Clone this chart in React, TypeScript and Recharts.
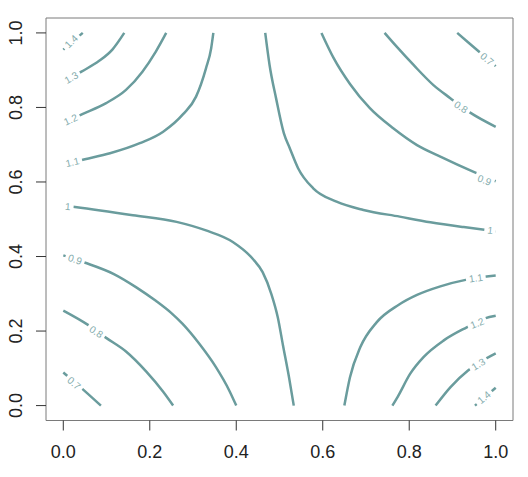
import React from 'react';
import { ComposedChart, Line, XAxis, YAxis, ReferenceArea, ReferenceDot } from 'recharts';

type P = [number, number];

// contour lines, [x, y]
const c07a: P[] = [[0, 0.089], [0.044, 0.045], [0.087, 0]];
const c08a: P[] = [[0, 0.255], [0.058, 0.216], [0.1, 0.181], [0.145, 0.145], [0.192, 0.091], [0.231, 0.037], [0.254, 0]];
const c09a: P[] = [[0, 0.403], [0.049, 0.384], [0.117, 0.353], [0.168, 0.318], [0.214, 0.281], [0.25, 0.248], [0.276, 0.219], [0.315, 0.165], [0.353, 0.103], [0.384, 0.04], [0.4, 0]];
const c10a: P[] = [[0, 0.537], [0.027, 0.533], [0.161, 0.511], [0.262, 0.493], [0.33, 0.47], [0.392, 0.439], [0.438, 0.394], [0.461, 0.358], [0.481, 0.3], [0.496, 0.237], [0.508, 0.162], [0.522, 0.076], [0.533, 0]];
const c10b: P[] = [[0.467, 1.0], [0.477, 0.914], [0.492, 0.825], [0.51, 0.731], [0.524, 0.69], [0.543, 0.637], [0.578, 0.583], [0.632, 0.547], [0.694, 0.525], [0.778, 0.507], [0.849, 0.492], [0.926, 0.479], [1.0, 0.468]];
const c09b: P[] = [[0.597, 1.0], [0.625, 0.933], [0.663, 0.863], [0.709, 0.798], [0.763, 0.744], [0.818, 0.699], [0.872, 0.668], [0.949, 0.627], [1.0, 0.602]];
const c08b: P[] = [[0.743, 1.0], [0.771, 0.963], [0.81, 0.914], [0.856, 0.86], [0.895, 0.825], [0.941, 0.786], [1.0, 0.748]];
const c07b: P[] = [[0.911, 1.0], [0.961, 0.95], [1.0, 0.911]];
const c11a: P[] = [[0, 0.647], [0.05, 0.661], [0.108, 0.677], [0.177, 0.704], [0.231, 0.735], [0.277, 0.782], [0.307, 0.829], [0.33, 0.905], [0.342, 0.959], [0.347, 1.0]];
const c12a: P[] = [[0, 0.758], [0.044, 0.782], [0.098, 0.811], [0.145, 0.847], [0.183, 0.896], [0.214, 0.95], [0.238, 1.0]];
const c13a: P[] = [[0, 0.868], [0.042, 0.896], [0.083, 0.925], [0.114, 0.956], [0.141, 1.0]];
const c14a: P[] = [[0, 0.955], [0.045, 1.0]];
const c11b: P[] = [[0.65, 0], [0.663, 0.076], [0.687, 0.157], [0.725, 0.224], [0.775, 0.27], [0.818, 0.297], [0.872, 0.32], [0.933, 0.338], [1.0, 0.349]];
const c12b: P[] = [[0.761, 0], [0.774, 0.025], [0.802, 0.085], [0.833, 0.13], [0.88, 0.175], [0.933, 0.21], [0.975, 0.234], [1.0, 0.241]];
const c13b: P[] = [[0.861, 0], [0.895, 0.049], [0.936, 0.094], [0.963, 0.116], [1.0, 0.14]];
const c14b: P[] = [[0.952, 0], [1.0, 0.048]];

const contours: { id: string; pts: P[] }[] = [
  { id: 'c07a', pts: c07a }, { id: 'c08a', pts: c08a }, { id: 'c09a', pts: c09a },
  { id: 'c10a', pts: c10a }, { id: 'c10b', pts: c10b }, { id: 'c09b', pts: c09b },
  { id: 'c08b', pts: c08b }, { id: 'c07b', pts: c07b }, { id: 'c11a', pts: c11a },
  { id: 'c12a', pts: c12a }, { id: 'c13a', pts: c13a }, { id: 'c14a', pts: c14a },
  { id: 'c11b', pts: c11b }, { id: 'c12b', pts: c12b }, { id: 'c13b', pts: c13b },
  { id: 'c14b', pts: c14b },
];

// contour labels: text, position on the line, angle along the line
const labelTexts = ['1.4', '1.3', '1.2', '1.1', '1', '0.9', '0.8', '0.7', '0.7', '0.8', '0.9', '1', '1.1', '1.2', '1.3', '1.4'];
const labelX = [0.0185, 0.0185, 0.017, 0.021, 0.0105, 0.027, 0.076, 0.025, 0.98, 0.92, 0.974, 0.987, 0.954, 0.957, 0.96, 0.973];
const labelY = [0.977, 0.88, 0.767, 0.653, 0.534, 0.392, 0.198, 0.06, 0.93, 0.801, 0.605, 0.47, 0.342, 0.221, 0.111, 0.022];
const labelAngle = [-45, -30, -25, -13, 5, 19, 33, 41, 40, 33, 20, 7, -8, -22, -32, -40];

const xTicks = [0, 0.2, 0.4, 0.6, 0.8, 1.0];
const yTicks = [0, 0.2, 0.4, 0.6, 0.8, 1.0];

const LINE = '#6a9c9d';
const LABEL = '#84acad';
const FONT = '"Liberation Sans", Arial, sans-serif';
const LFS = 10;

const toRows = (pts: P[]) => pts.map(([x, y]) => ({ x, y }));

const textWidth = (s: string) => {
  let w = 0;
  for (const ch of s) w += ch === '.' ? 0.278 : 0.556;
  return w * LFS;
};

const YTick = (props: any) => {
  const { x, y, payload } = props;
  return (
    <text
      transform={`translate(${x - 12.3},${y}) rotate(-90)`}
      textAnchor="middle"
      fontSize={18}
      fontFamily={FONT}
      fill="#222"
    >
      {Number(payload.value).toFixed(1)}
    </text>
  );
};

export default function App() {
  return (
    <div style={{ position: 'absolute', left: 0, top: 0 }}>
      <ComposedChart width={528} height={477} margin={{ top: 18, right: 15, bottom: 0, left: 0 }}>
        <XAxis
          type="number"
          dataKey="x"
          domain={[-0.04, 1.04]}
          ticks={xTicks}
          allowDataOverflow
          axisLine={false}
          tickSize={10}
          tickMargin={15}
          height={56.5}
          tickLine={{ stroke: '#333' }}
          tick={{ fill: '#222', fontSize: 18, fontFamily: FONT }}
          tickFormatter={(v: number) => v.toFixed(1)}
          interval={0}
        />
        <YAxis
          type="number"
          domain={[-0.04, 1.04]}
          ticks={yTicks}
          allowDataOverflow
          axisLine={false}
          tickSize={10}
          width={46}
          tickLine={{ stroke: '#333' }}
          tick={<YTick />}
          interval={0}
        />
        <ReferenceArea x1={-0.04} x2={1.04} y1={-0.04} y2={1.04} fill="none" stroke="#7a7a7a" strokeWidth={1} />
        {contours.map((c) => (
          <Line
            key={c.id}
            data={toRows(c.pts)}
            dataKey="y"
            type="monotone"
            stroke={LINE}
            strokeWidth={2.5}
            dot={false}
            activeDot={false}
            isAnimationActive={false}
          />
        ))}
        {labelTexts.map((t, i) => (
          <ReferenceDot
            key={'lab' + i}
            x={labelX[i]}
            y={labelY[i]}
            r={0}
            shape={(p: any) => {
              const w = textWidth(t) + 6;
              return (
                <g transform={`translate(${p.cx},${p.cy}) rotate(${labelAngle[i]})`}>
                  <rect x={-w / 2} y={-5.5} width={w} height={11} fill="#fff" />
                  <text x={0} y={0} dy="0.35em" textAnchor="middle" fontSize={LFS} fontFamily={FONT} fill={LABEL}>
                    {t}
                  </text>
                </g>
              );
            }}
          />
        ))}
      </ComposedChart>
    </div>
  );
}
